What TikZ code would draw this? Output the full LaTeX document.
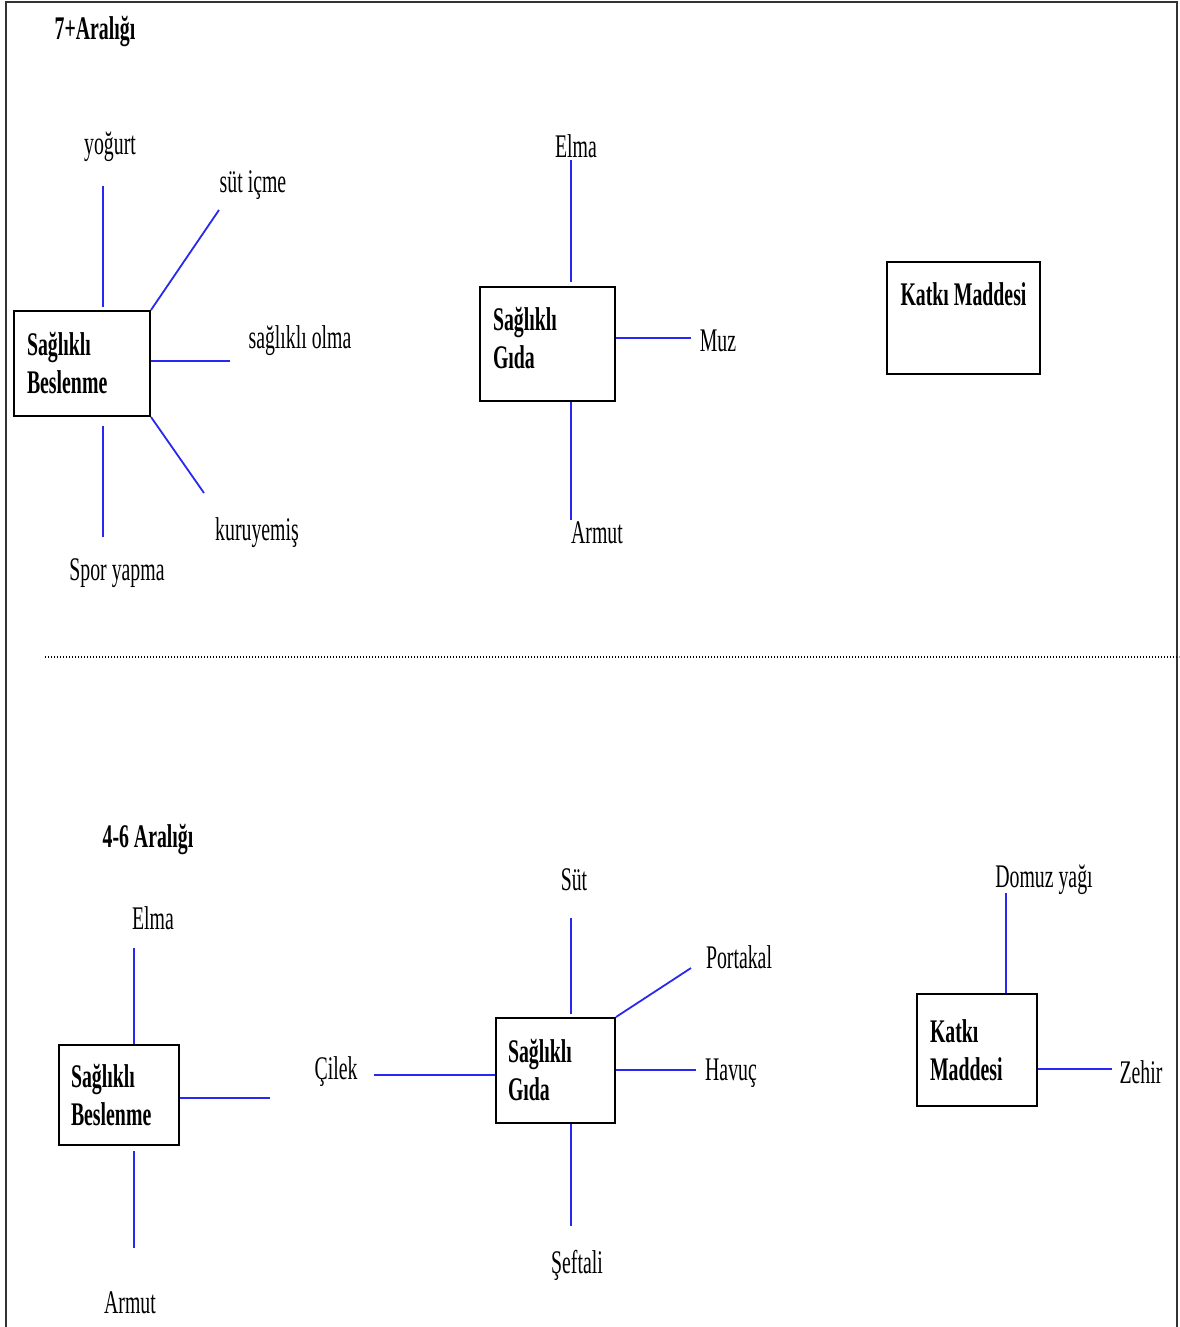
\documentclass[tikz,border=0pt]{standalone}
\usepackage{fontspec}
\setmainfont{Liberation Serif}[FakeStretch=0.6]
\usepackage{tikz}
\definecolor{linkblue}{RGB}{40,40,240}

\begin{document}
\begin{tikzpicture}[x=0.5pt, y=-0.5pt,
    every node/.style={font=\fontsize{16.5}{19}\selectfont, inner sep=0pt},
    fbox/.style={rectangle, draw, line width=1pt, align=left, inner xsep=6.5pt, inner ysep=0pt, font=\fontsize{16.5}{19}\selectfont\bfseries},
    head/.style={font=\fontsize{16.5}{19}\selectfont\bfseries},
    link/.style={draw=linkblue, line width=0.9pt}]
    \useasboundingbox (0,0) rectangle (1179,1327);
    \draw [line width=1pt, black!80] (6,1327) -- (6,2) -- (1177,2) -- (1177,1327);

    \node (top) [head] at (95,32) {7+Aralığı};
    \node (b1) [fbox, text width=55pt, minimum height=52.5pt] at (82,363.5) {Sağlıklı\\Beslenme};
    \node (b2) [fbox, text width=54.5pt, minimum height=57pt] at (547.5,344) {Sağlıklı\\Gıda\\[-12.5pt]\mbox{}};
    \node (b3) [fbox, align=center, minimum width=76.5pt, text depth=24pt, minimum height=56pt] at (963.5,318) {Katkı Maddesi};

    \node (yogurt) at (110,147) {yoğurt};
    \node (sut) at (253,185) {süt içme};
    \node (olma) at (300,341) {sağlıklı olma};
    \node (kuru) at (257,533) {kuruyemiş};
    \node (spor) at (117,573) {Spor yapma};
    \node (elma) at (576,146) {Elma};
    \node (muz) at (718,341) {Muz};
    \node (armut) at (597,533) {Armut};

    \coordinate (yogE) at (103,186);
    \coordinate (sutE) at (219,210);
    \coordinate (olmaE) at (230,361);
    \coordinate (kuruE) at (204,493);
    \coordinate (sporE) at (103,537);
    \coordinate (elmaE) at (571,160);
    \coordinate (muzE) at (691,338);
    \coordinate (armutE) at (571,520);

    \draw [link, shorten <=1.5pt] (b1.north -| yogE) -- (yogE);
    \draw [link] (b1.north east) -- (sutE);
    \draw [link] (b1.east |- olmaE) -- (olmaE);
    \draw [link] (b1.south east) -- (kuruE);
    \draw [link, shorten <=4.5pt] (b1.south -| sporE) -- (sporE);
    \draw [link, shorten <=2pt] (b2.north -| elmaE) -- (elmaE);
    \draw [link] (b2.east |- muzE) -- (muzE);
    \draw [link] (b2.south -| armutE) -- (armutE);

    \draw [dash pattern=on 0.6pt off 0.9pt, line width=0.7pt] (45,657) -- (1179,657);

    \node (bottom) [head] at (148,840) {4-6 Aralığı};
    \node (b4) [fbox, inner xsep=6pt, text width=48pt, minimum height=50pt] at (119,1095) {Sağlıklı\\Beslenme};
    \node (b5) [fbox, inner xsep=6pt, text width=47.5pt, minimum height=52.5pt] at (555.5,1070.5) {Sağlıklı\\Gıda};
    \node (b6) [fbox, text width=47pt, minimum height=56pt] at (977,1050) {Katkı\\Maddesi};

    \node (elma2) at (153,918) {Elma};
    \node (cilek) at (336,1072) {Çilek};
    \node (armut2) at (130,1303) {Armut};
    \node (sut2) at (574,880) {Süt};
    \node (portakal) at (739,957) {Portakal};
    \node (havuc) at (731,1073) {Havuç};
    \node (seftali) at (577,1265) {Şeftali};
    \node (domuz) at (1044,880) {Domuz yağı};
    \node (zehir) at (1141,1072) {Zehir};

    \coordinate (elma2E) at (134,948);
    \coordinate (b4rE) at (270,1098);
    \coordinate (armut2E) at (134,1248);
    \coordinate (sut2E) at (571,918);
    \coordinate (portE) at (691,968);
    \coordinate (havucE) at (696,1070);
    \coordinate (seftE) at (571,1226);
    \coordinate (cilekE) at (374,1075);
    \coordinate (domuzE) at (1006,893);
    \coordinate (zehirE) at (1112,1069);

    \draw [link] (b4.north -| elma2E) -- (elma2E);
    \draw [link] (b4.east |- b4rE) -- (b4rE);
    \draw [link, shorten <=2.5pt] (b4.south -| armut2E) -- (armut2E);
    \draw [link, shorten <=1.5pt] (b5.north -| sut2E) -- (sut2E);
    \draw [link] (b5.north east) -- (portE);
    \draw [link] (b5.east |- havucE) -- (havucE);
    \draw [link] (b5.south -| seftE) -- (seftE);
    \draw [link] (cilekE) -- (b5.west |- cilekE);
    \draw [link] (b6.north -| domuzE) -- (domuzE);
    \draw [link] (b6.east |- zehirE) -- (zehirE);
\end{tikzpicture}
\end{document}
